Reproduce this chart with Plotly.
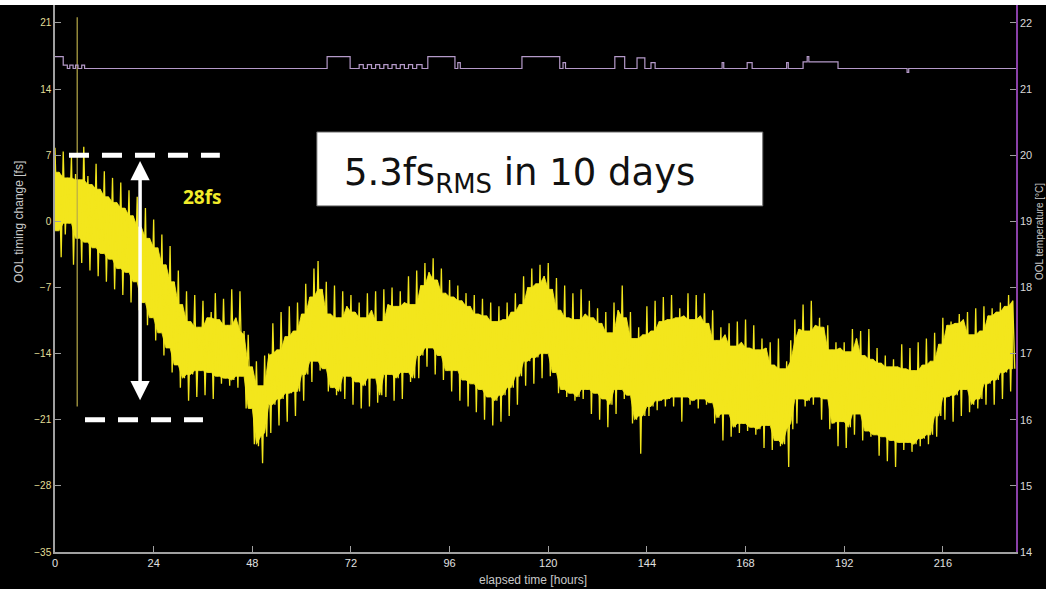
import numpy as np
import plotly.graph_objects as go

# ---- out-of-loop timing drift, per-hour upper / lower excursions [fs] ----
hours = np.arange(234)

timing_hi = [
    7.8, 5.2, 7.4, 4.6, 6.9, 5.0, 4.4, 7.9, 4.8, 3.9, 6.1, 3.4,
    5.3, 2.6, 4.6, 2.0, 4.1, 1.4, 3.3, 0.6, 2.6, -0.6, 1.4, -1.8,
    0.2, -2.8, -1.4, -4.6, -2.6, -6.4, -5.2, -8.8, -7.4, -10.6, -7.8, -11.2,
    -8.4, -10.2, -9.6, -7.6, -10.4, -8.2, -11.0, -7.2, -10.2, -7.4, -11.6, -12.0,
    -15.4, -14.8, -17.4, -14.2, -14.0, -10.8, -13.6, -9.6, -12.2, -9.0, -11.6, -8.6,
    -9.8, -6.6, -8.0, -5.0, -4.2, -7.2, -6.4, -9.8, -6.8, -10.2, -7.4, -9.0,
    -7.8, -9.6, -8.6, -10.2, -7.6, -9.4, -7.4, -10.6, -7.2, -8.8, -7.0, -9.0,
    -7.4, -8.6, -5.8, -8.8, -5.2, -6.8, -4.4, -5.4, -3.9, -6.2, -5.0, -7.6,
    -6.2, -8.0, -6.8, -8.4, -7.6, -9.0, -7.8, -9.8, -8.2, -10.0, -8.6, -10.6,
    -9.0, -10.4, -8.6, -9.6, -7.6, -8.8, -5.8, -7.0, -5.0, -6.6, -4.6, -5.8,
    -4.4, -7.2, -6.0, -9.4, -6.8, -10.2, -7.6, -10.4, -7.2, -9.8, -8.4, -10.2,
    -9.2, -10.8, -9.6, -11.8, -8.6, -9.4, -6.8, -10.2, -9.6, -12.4, -11.2, -12.0,
    -9.0, -11.6, -8.4, -10.6, -8.0, -10.4, -7.8, -10.2, -9.2, -10.0, -7.6, -10.4,
    -7.8, -10.0, -7.6, -10.8, -9.4, -12.6, -11.2, -12.0, -10.8, -13.2, -10.6, -12.8,
    -10.4, -13.4, -11.0, -13.6, -12.4, -13.4, -12.8, -15.2, -12.4, -15.6, -14.8, -12.6,
    -10.4, -11.4, -8.8, -11.6, -8.4, -11.0, -10.2, -11.2, -11.0, -13.6, -12.8, -13.4,
    -12.8, -13.8, -11.4, -12.4, -11.6, -14.2, -11.4, -14.6, -13.4, -15.0, -14.2, -15.4,
    -14.6, -15.4, -13.0, -15.6, -13.4, -15.8, -12.8, -15.2, -12.4, -14.8, -11.8, -13.0,
    -10.2, -11.0, -10.6, -10.8, -9.8, -10.4, -9.6, -12.0, -9.2, -11.6, -9.0, -10.0,
    -9.2, -9.6, -8.6, -9.0, -7.8, -8.4,
]

timing_lo = [
    -1.0, -3.8, -1.4, -0.2, -4.6, -1.8, -4.4, -2.2, -5.2, -2.8, -5.8, -3.4,
    -6.4, -4.0, -7.2, -5.0, -7.8, -5.4, -8.6, -6.4, -9.4, -8.6, -11.0, -10.2,
    -12.6, -11.8, -14.2, -13.4, -16.0, -15.2, -17.6, -16.6, -19.0, -16.2, -18.6, -15.8,
    -18.4, -16.0, -18.8, -16.4, -17.2, -16.6, -17.4, -16.8, -17.6, -16.4, -19.8, -19.8,
    -23.6, -23.8, -25.6, -22.8, -22.4, -19.4, -21.6, -18.8, -21.2, -18.2, -20.6, -18.0,
    -19.0, -16.2, -17.0, -14.8, -15.8, -15.6, -18.0, -17.6, -18.4, -18.0, -18.8, -16.4,
    -19.4, -17.0, -19.8, -17.4, -19.6, -16.6, -19.2, -18.4, -18.6, -16.2, -19.0, -16.6,
    -18.8, -16.0, -17.0, -16.6, -16.6, -14.2, -15.4, -13.4, -16.2, -14.2, -16.8, -15.8,
    -18.0, -15.8, -19.0, -16.8, -19.6, -17.2, -20.2, -17.8, -21.0, -18.6, -21.6, -19.0,
    -21.2, -18.4, -20.6, -17.6, -19.4, -16.4, -17.4, -14.8, -17.2, -14.4, -16.6, -14.0,
    -16.4, -16.0, -18.2, -17.8, -18.6, -18.2, -19.0, -18.6, -18.8, -17.8, -20.4, -18.2,
    -21.0, -18.8, -21.8, -19.4, -20.4, -17.8, -18.8, -18.4, -21.4, -21.0, -24.6, -20.6,
    -20.6, -19.6, -20.0, -19.0, -19.6, -18.8, -19.6, -18.6, -21.2, -18.6, -19.4, -19.0,
    -19.8, -18.8, -19.4, -19.2, -21.4, -20.8, -23.2, -20.4, -22.8, -21.8, -22.4, -21.4,
    -22.2, -21.8, -22.6, -22.0, -24.0, -21.6, -24.2, -23.2, -23.8, -23.6, -26.0, -22.0,
    -21.4, -18.8, -19.6, -19.0, -19.4, -18.6, -21.0, -18.8, -22.0, -21.4, -23.8, -21.2,
    -24.0, -21.8, -22.6, -20.4, -23.2, -22.2, -22.8, -22.6, -24.8, -22.8, -25.4, -23.2,
    -26.0, -23.4, -24.2, -23.4, -24.4, -23.6, -23.8, -23.0, -23.6, -22.6, -22.8, -20.6,
    -21.0, -18.6, -21.2, -18.4, -20.6, -17.8, -20.2, -19.4, -19.8, -18.8, -19.4, -17.2,
    -19.4, -16.8, -18.8, -16.0, -18.0, -15.6,
]

# single glitch in the timing record
glitch_t = [5.4, 5.4]
glitch_v = [21.6, -19.6]

# ---- OOL temperature [degC], step record ----
temp_t = [0.0, 2.0, 3.0, 3.6, 4.4, 5.0, 5.6, 6.5, 7.2, 8.0,
          66.2, 71.8, 74.0, 75.0, 76.0, 77.0, 78.0, 79.0, 80.0, 81.0, 82.0, 83.0,
          84.0, 85.0, 86.0, 87.0, 88.0, 89.3, 90.7, 97.3, 98.0, 98.6,
          113.6, 122.8, 123.6, 124.2, 136.2, 138.6, 141.6, 143.5, 145.0, 146.0,
          148.9, 162.3, 162.7, 168.4, 169.6, 178.0, 178.4, 182.0, 183.0, 183.4,
          190.5, 207.3, 207.7, 233.8]
temp_v = [21.49, 21.36, 21.31, 21.36, 21.31, 21.36, 21.31, 21.36, 21.31, 21.31,
          21.49, 21.31, 21.37, 21.31, 21.37, 21.31, 21.37, 21.31, 21.37, 21.31, 21.37, 21.31,
          21.37, 21.31, 21.37, 21.31, 21.37, 21.31, 21.49, 21.31, 21.40, 21.31,
          21.49, 21.31, 21.40, 21.31, 21.49, 21.31, 21.47, 21.31, 21.40, 21.31,
          21.31, 21.40, 21.31, 21.40, 21.31, 21.40, 21.31, 21.41, 21.49, 21.41,
          21.31, 21.25, 21.31, 21.31]

x_ticks = [0, 24, 48, 72, 96, 120, 144, 168, 192, 216]
left_ticks = [21, 14, 7, 0, -7, -14, -21, -28, -35]
right_ticks = [14, 15, 16, 17, 18, 19, 20, 21, 22]

YELLOW = "#f3e61c"

hi = np.array(timing_hi)
lo = np.array(timing_lo)

# interleave the hourly extremes into one dense trace
t = np.empty(2 * len(hours))
v = np.empty(2 * len(hours))
t[0::2] = hours
t[1::2] = hours + 0.5
v[0::2] = hi
v[1::2] = lo

# solid core of the band: tightest neighbouring extremes
pad_hi = np.concatenate([[hi[0]], hi, [hi[-1]]])
pad_lo = np.concatenate([[lo[0]], lo, [lo[-1]]])
core_hi = np.minimum(np.minimum(pad_hi[:-2], pad_hi[1:-1]), pad_hi[2:])
core_lo = np.maximum(np.maximum(pad_lo[:-2], pad_lo[1:-1]), pad_lo[2:])
band_x = np.concatenate([hours, hours[::-1]])
band_y = np.concatenate([core_hi, core_lo[::-1]])

fig = go.Figure()
fig.add_trace(go.Scatter(x=band_x, y=band_y, mode="lines", fill="toself",
                         fillcolor=YELLOW, line=dict(color=YELLOW, width=0.8),
                         hoverinfo="skip"))
fig.add_trace(go.Scatter(x=t, y=v, mode="lines",
                         line=dict(color=YELLOW, width=1.3, simplify=False),
                         hoverinfo="skip"))
fig.add_trace(go.Scatter(x=glitch_t, y=glitch_v, mode="lines",
                         line=dict(color="#b8aa48", width=1.2),
                         hoverinfo="skip"))
fig.add_trace(go.Scatter(x=temp_t, y=temp_v, mode="lines", yaxis="y2",
                         line=dict(color="#b59ac9", width=1.2, shape="hv"),
                         hoverinfo="skip"))

tick_font = dict(family="Liberation Sans, Arial, sans-serif", size=11)

fig.update_layout(
    width=1046, height=589,
    margin=dict(l=55, r=30, t=5, b=37),
    paper_bgcolor="black", plot_bgcolor="black",
    showlegend=False,
    xaxis=dict(range=[0, 233.8], tickvals=x_ticks, showgrid=False, zeroline=False,
               showline=True, linecolor="#a0a0a0", linewidth=1.5,
               ticks="inside", ticklen=6, tickcolor="#a0a0a0",
               tickfont=dict(tick_font, color="#e0e0e0")),
    yaxis=dict(range=[-35, 22.9], tickvals=left_ticks, showgrid=False, zeroline=False,
               showline=True, linecolor="#a0a0a0", linewidth=1.5,
               ticks="inside", ticklen=6, tickcolor="#a0a0a0",
               tickfont=dict(tick_font, size=10, color="#e2de96")),
    yaxis2=dict(range=[14, 22.27], tickvals=right_ticks, overlaying="y", side="right",
                showgrid=False, zeroline=False, showline=True,
                linecolor="#8a40a8", linewidth=1.5,
                ticks="inside", ticklen=6, tickcolor="#a0a0a0",
                tickfont=dict(tick_font, color="#d8d8d8")),
)

# white strip along the top edge of the page
fig.add_shape(type="rect", xref="paper", yref="paper",
              x0=-0.06, x1=1.04, y0=1.0, y1=1.02,
              fillcolor="white", line=dict(width=0), layer="above")

# 28 fs span markers
fig.add_shape(type="line", xref="x", yref="y", x0=3.4, x1=40.1, y0=7, y1=7,
              line=dict(color="white", width=5, dash="20px,13px"))
fig.add_shape(type="line", xref="x", yref="y", x0=7.3, x1=36.0, y0=-21, y1=-21,
              line=dict(color="white", width=5, dash="20px,13px"))
fig.add_annotation(x=20.7, y=6.4, ax=20.7, ay=-19.1, xref="x", yref="y",
                   axref="x", ayref="y", text="", showarrow=True,
                   arrowside="end+start", arrowhead=2, arrowsize=1.1,
                   arrowwidth=3.5, arrowcolor="white")
fig.add_annotation(x=35.8, y=2.6, xref="x", yref="y", text="<b>28fs</b>",
                   showarrow=False,
                   font=dict(family="Open Sans, sans-serif", size=19, color="#f2ec2a"))

# RMS summary box
fig.add_shape(type="rect", xref="x", yref="y", x0=63.7, x1=172.2, y0=1.63, y1=9.46,
              fillcolor="white", line=dict(color="#606060", width=1), layer="above")
fig.add_annotation(x=69.8, y=4.9, xref="x", yref="y", xanchor="left", yanchor="middle",
                   text="5.3fs<sub>RMS</sub> in 10 days", showarrow=False,
                   font=dict(family="DejaVu Sans, sans-serif", size=37, color="#111111"))

# axis titles, placed in page pixels
plot_w = 1046 - 55 - 30
plot_h = 589 - 5 - 37


def page_label(px, py, text, size, angle=0):
    fig.add_annotation(x=(px - 55) / plot_w, y=(589 - 37 - py) / plot_h,
                       xref="paper", yref="paper", xanchor="center", yanchor="middle",
                       text=text, showarrow=False, textangle=angle,
                       font=dict(tick_font, size=size, color="#c8c8c8"))


page_label(19, 222, "OOL timing change [fs]", 12, -90)
page_label(533, 580, "elapsed time [hours]", 12)
page_label(1039, 232, "OOL temperature [°C]", 10, -90)

fig.write_html("out.html")
